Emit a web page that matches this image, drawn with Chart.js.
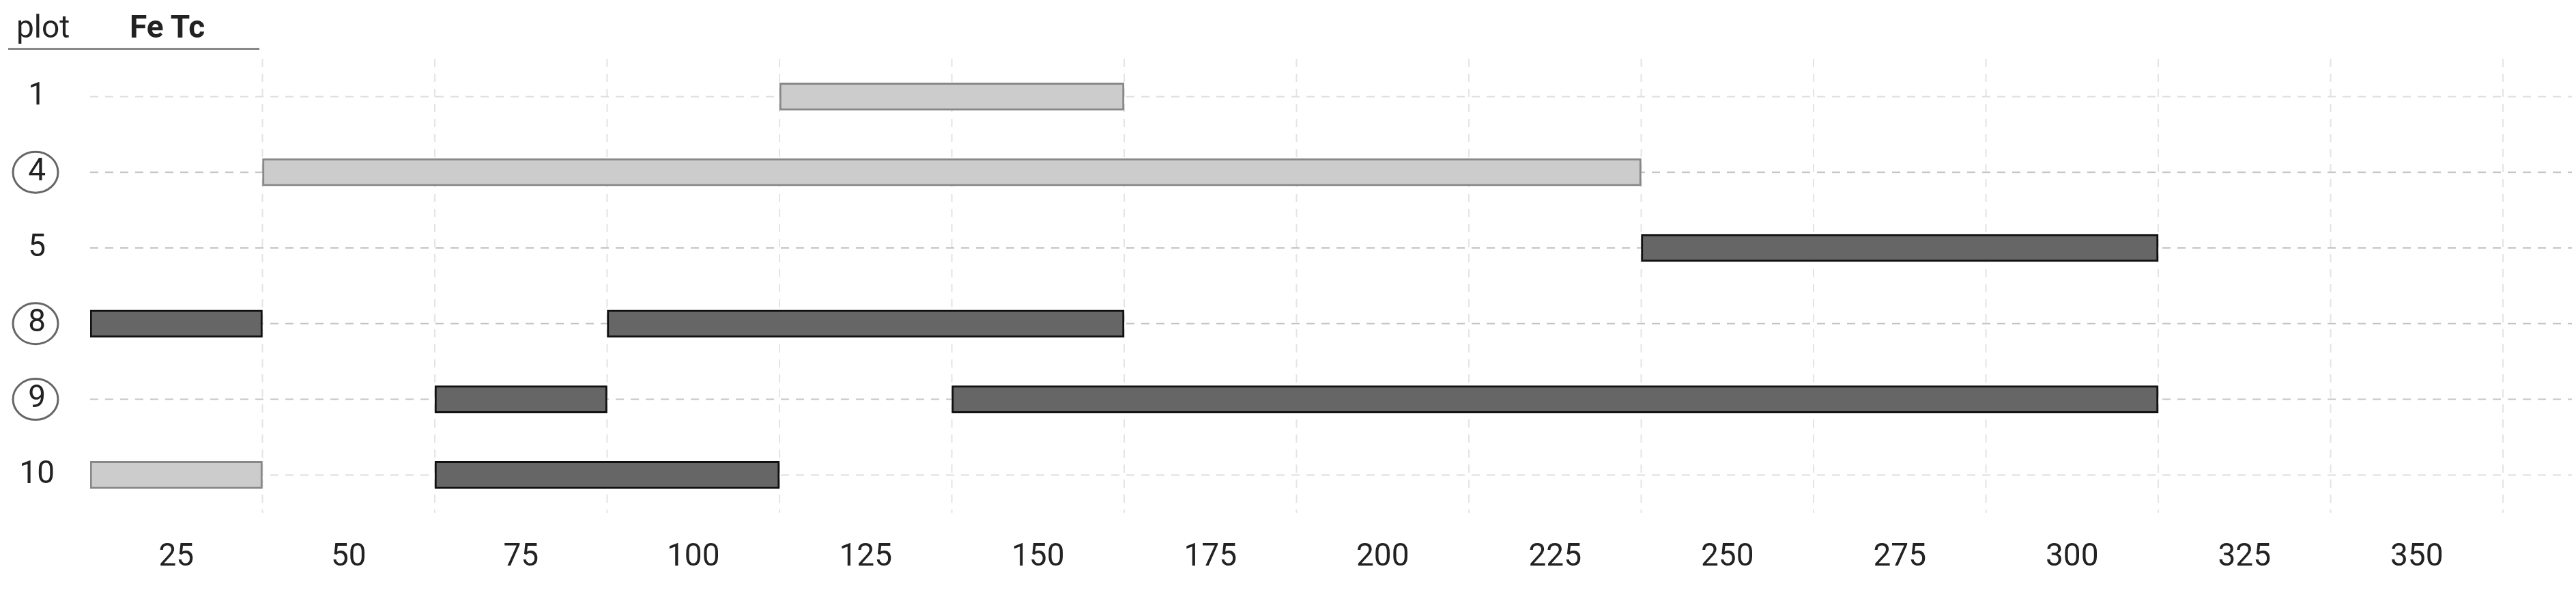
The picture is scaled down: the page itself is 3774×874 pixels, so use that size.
<!DOCTYPE html>
<html>
<head>
<meta charset="utf-8">
<script src="https://cdn.jsdelivr.net/npm/chart.js@4/dist/chart.umd.min.js"></script>
<style>
  html, body { margin: 0; padding: 0; background: #fff; }
  #wrap { position: relative; width: 3774px; height: 874px; }
  #head { position: absolute; left: 12px; top: 8px; width: 368px; height: 62px;
          border-bottom: 3px solid #888; font-family: Roboto, sans-serif; font-size: 46px; color: #222; }
  #head span { position: absolute; top: 4px; }
</style>
</head>
<body>
<div id="wrap">
  <canvas id="chart" width="3774" height="874"></canvas>
  <div id="head"><span style="left:12px">plot</span><span style="left:178px;font-weight:bold">Fe Tc</span></div>
</div>
<script>
const plots = ['1', '4', '5', '8', '9', '10'];
const circled = ['4', '8', '9'];
const tickLabels = [25, 50, 75, 100, 125, 150, 175, 200, 225, 250, 275, 300, 325, 350];
const lightBars = [['1', 112.5, 162.5], ['4', 37.5, 237.5], ['10', 12.5, 37.5]];
const darkBars = [['5', 237.5, 312.5], ['8', 12.5, 37.5], ['8', 87.5, 162.5],
                  ['9', 62.5, 87.5], ['9', 137.5, 312.5], ['10', 62.5, 112.5]];

const toData = list => list.map(b => ({ y: b[0], x: [b[1], b[2]] }));

const circlePlugin = {
  id: 'circles',
  afterDraw(chart) {
    const ctx = chart.ctx, y = chart.scales.y;
    ctx.save();
    ctx.strokeStyle = '#666';
    ctx.lineWidth = 3;
    plots.forEach((p, i) => {
      if (!circled.includes(p)) return;
      ctx.beginPath();
      ctx.ellipse(52, y.getPixelForValue(i), 33, 30, 0, 0, Math.PI * 2);
      ctx.stroke();
    });
    ctx.restore();
  }
};

Chart.defaults.font.family = 'Roboto, sans-serif';
Chart.defaults.color = '#222';

new Chart(document.getElementById('chart'), {
  type: 'bar',
  data: {
    labels: plots,
    datasets: [
      { data: toData(lightBars), backgroundColor: '#cccccc', borderColor: '#888', borderWidth: 3,
        borderSkipped: false, barThickness: 40, grouped: false },
      { data: toData(darkBars), backgroundColor: '#666666', borderColor: '#111', borderWidth: 3,
        borderSkipped: false, barThickness: 40, grouped: false }
    ]
  },
  options: {
    indexAxis: 'y',
    responsive: false,
    devicePixelRatio: 1,
    animation: false,
    layout: { padding: { top: 86, right: 6 } },
    plugins: { legend: { display: false }, tooltip: { enabled: false } },
    scales: {
      y: {
        afterFit: s => { s.width = 132; },
        border: { display: false },
        grid: { color: '#c8c8c8', lineWidth: 2, drawTicks: false, offset: false, tickBorderDash: [0, 0] },
        ticks: { font: { size: 46 }, padding: 52, align: 'center', crossAlign: 'center' }
      },
      x: {
        type: 'linear', min: 12.5, max: 372.5,
        afterBuildTicks: s => { s.ticks = tickLabels.map(v => ({ value: v + 12.5 })); },
        border: { display: false, dash: [12, 8] },
        grid: { color: '#e2e2e2', lineWidth: 2, drawTicks: false },
        ticks: { display: false }
      },
      x2: {
        type: 'linear', position: 'bottom', min: 12.5, max: 372.5,
        afterBuildTicks: s => { s.ticks = tickLabels.map(v => ({ value: v })); },
        border: { display: false },
        grid: { display: false },
        ticks: { font: { size: 46 }, padding: 30, callback: v => v }
      }
    }
  },
  plugins: [circlePlugin, {
    id: 'dashes',
    beforeDatasetsDraw(chart) {
      const ctx = chart.ctx, a = chart.chartArea, x = chart.scales.x, y = chart.scales.y;
      ctx.save();
      ctx.fillStyle = '#fff';
      ctx.fillRect(a.left, a.top, a.right - a.left, a.bottom - a.top);
      ctx.lineWidth = 2;
      ctx.setLineDash([12, 10]);
      ctx.strokeStyle = '#e4e4e4';
      x.ticks.forEach(t => {
        const px = x.getPixelForValue(t.value);
        ctx.beginPath(); ctx.moveTo(px, a.top); ctx.lineTo(px, a.bottom); ctx.stroke();
      });
      plots.forEach((p, i) => {
        const py = y.getPixelForValue(i);
        ctx.strokeStyle = (p === '1' || p === '10') ? '#dddddd' : '#c4c4c4';
        ctx.beginPath(); ctx.moveTo(a.left, py); ctx.lineTo(a.right, py); ctx.stroke();
      });
      ctx.restore();
    }
  }]
});
</script>
</body>
</html>
